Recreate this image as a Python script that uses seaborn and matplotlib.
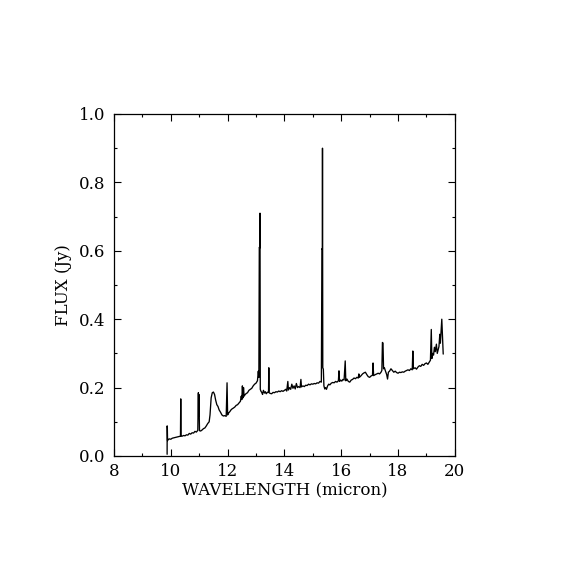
import matplotlib.pyplot as plt
import pandas as pd
import seaborn as sns
from matplotlib.ticker import MultipleLocator


# spectrum (wavelength in micron, flux in Jy)
WAVELENGTH = [
    9.870, 9.872, 9.878, 9.885, 9.90, 9.95, 10.00, 10.05, 10.10, 10.15,
    10.20, 10.25, 10.30, 10.34, 10.35, 10.36, 10.40, 10.45, 10.50, 10.55,
    10.60, 10.65, 10.70, 10.75, 10.80, 10.85, 10.90, 10.95, 10.97, 10.98,
    10.99, 11.01, 11.05, 11.10, 11.15, 11.20, 11.25, 11.30, 11.35, 11.38,
    11.42, 11.46, 11.50, 11.54, 11.58, 11.62, 11.66, 11.70, 11.75, 11.80,
    11.85, 11.90, 11.95, 11.98, 12.00, 12.03, 12.08, 12.12, 12.16, 12.20,
    12.25, 12.30, 12.35, 12.40, 12.45, 12.48, 12.50, 12.52, 12.54, 12.56,
    12.58, 12.62, 12.66, 12.70, 12.75, 12.80, 12.85, 12.90, 12.95, 13.00,
    13.05, 13.08, 13.10, 13.115, 13.13, 13.14, 13.15, 13.17, 13.20, 13.23,
    13.26, 13.30, 13.33, 13.36, 13.40, 13.44, 13.45, 13.46, 13.50, 13.55,
    13.60, 13.65, 13.70, 13.75, 13.80, 13.85, 13.90, 13.95, 14.00, 14.05,
    14.08, 14.12, 14.14, 14.18, 14.22, 14.26, 14.30, 14.34, 14.38, 14.42,
    14.46, 14.50, 14.55, 14.58, 14.60, 14.65, 14.70, 14.75, 14.80, 14.85,
    14.90, 14.95, 15.00, 15.05, 15.10, 15.15, 15.20, 15.25, 15.30, 15.32,
    15.335, 15.34, 15.35, 15.37, 15.39, 15.42, 15.45, 15.48, 15.52, 15.56,
    15.60, 15.65, 15.70, 15.75, 15.80, 15.85, 15.90, 15.92, 15.94, 15.98,
    16.02, 16.06, 16.10, 16.14, 16.16, 16.20, 16.25, 16.30, 16.35, 16.40,
    16.45, 16.50, 16.55, 16.60, 16.62, 16.64, 16.70, 16.75, 16.80, 16.85,
    16.90, 16.95, 17.00, 17.05, 17.10, 17.12, 17.14, 17.20, 17.25, 17.30,
    17.35, 17.40, 17.43, 17.45, 17.47, 17.49, 17.52, 17.55, 17.60, 17.63,
    17.66, 17.70, 17.75, 17.80, 17.85, 17.90, 17.95, 18.00, 18.05, 18.10,
    18.15, 18.20, 18.25, 18.30, 18.35, 18.40, 18.45, 18.50, 18.52, 18.54,
    18.60, 18.65, 18.70, 18.75, 18.80, 18.85, 18.90, 18.95, 19.00, 19.05,
    19.10, 19.14, 19.17, 19.19, 19.22, 19.25, 19.28, 19.31, 19.35, 19.38,
    19.41, 19.44, 19.47, 19.49, 19.52, 19.54, 19.56, 19.59,
]

FLUX = [
    0.005, 0.088, 0.080, 0.045, 0.048, 0.050, 0.049, 0.052, 0.053, 0.054,
    0.055, 0.056, 0.057, 0.058, 0.167, 0.058, 0.058, 0.060, 0.059, 0.062,
    0.061, 0.066, 0.064, 0.068, 0.067, 0.072, 0.070, 0.075, 0.185, 0.115,
    0.180, 0.074, 0.073, 0.076, 0.080, 0.082, 0.088, 0.095, 0.100, 0.120,
    0.170, 0.185, 0.187, 0.180, 0.163, 0.150, 0.145, 0.135, 0.128, 0.120,
    0.117, 0.118, 0.116, 0.214, 0.120, 0.125, 0.130, 0.135, 0.138, 0.140,
    0.143, 0.148, 0.150, 0.155, 0.160, 0.175, 0.165, 0.205, 0.170, 0.200,
    0.175, 0.180, 0.183, 0.185, 0.192, 0.195, 0.198, 0.205, 0.210, 0.213,
    0.220, 0.248, 0.230, 0.610, 0.608, 0.710, 0.195, 0.190, 0.186, 0.180,
    0.192, 0.184, 0.188, 0.182, 0.186, 0.188, 0.258, 0.185, 0.183, 0.182,
    0.186, 0.185, 0.188, 0.187, 0.190, 0.188, 0.191, 0.189, 0.192, 0.195,
    0.190, 0.218, 0.193, 0.200, 0.195, 0.210, 0.198, 0.205, 0.196, 0.212,
    0.200, 0.203, 0.200, 0.224, 0.202, 0.205, 0.203, 0.207, 0.206, 0.210,
    0.208, 0.211, 0.210, 0.212, 0.211, 0.214, 0.213, 0.218, 0.216, 0.606,
    0.604, 0.900, 0.258, 0.254, 0.205, 0.196, 0.200, 0.195, 0.205, 0.210,
    0.208, 0.213, 0.215, 0.214, 0.218, 0.216, 0.220, 0.249, 0.218, 0.222,
    0.219, 0.224, 0.222, 0.278, 0.220, 0.225, 0.218, 0.216, 0.222, 0.224,
    0.228, 0.226, 0.230, 0.228, 0.240, 0.230, 0.235, 0.240, 0.243, 0.245,
    0.238, 0.232, 0.230, 0.234, 0.236, 0.272, 0.235, 0.238, 0.240, 0.242,
    0.240, 0.245, 0.250, 0.332, 0.330, 0.255, 0.258, 0.250, 0.238, 0.225,
    0.245, 0.248, 0.255, 0.250, 0.245, 0.248, 0.244, 0.242, 0.245, 0.244,
    0.246, 0.245, 0.248, 0.250, 0.252, 0.250, 0.255, 0.252, 0.307, 0.255,
    0.258, 0.254, 0.260, 0.264, 0.262, 0.268, 0.265, 0.270, 0.272, 0.268,
    0.275, 0.280, 0.370, 0.285, 0.300, 0.295, 0.318, 0.305, 0.327, 0.300,
    0.310, 0.320, 0.356, 0.330, 0.372, 0.400, 0.360, 0.298,
]

X_TICKS = [8, 10, 12, 14, 16, 18, 20]
Y_TICKS = [0.0, 0.2, 0.4, 0.6, 0.8, 1.0]


def set_chart_theme():
    sns.set_theme(style="ticks")
    plt.rcParams["font.family"] = ["DejaVu Serif"]
    plt.rcParams["text.color"] = "black"
    plt.rcParams["axes.labelcolor"] = "black"
    plt.rcParams["axes.edgecolor"] = "black"
    plt.rcParams["axes.linewidth"] = 0.9
    plt.rcParams["xtick.direction"] = "in"
    plt.rcParams["ytick.direction"] = "in"
    plt.rcParams["xtick.top"] = True
    plt.rcParams["ytick.right"] = True
    plt.rcParams["xtick.color"] = "black"
    plt.rcParams["ytick.color"] = "black"
    plt.rcParams["xtick.labelcolor"] = "black"
    plt.rcParams["ytick.labelcolor"] = "black"


def main():
    set_chart_theme()
    spectrum = pd.DataFrame({"wavelength": WAVELENGTH, "flux": FLUX})

    figure = plt.figure(figsize=(5.7, 5.7), dpi=100)
    axis = figure.add_axes([0.2, 0.2, 0.598, 0.6])
    sns.lineplot(
        data=spectrum,
        x="wavelength",
        y="flux",
        sort=False,
        estimator=None,
        color="black",
        linewidth=0.95,
        ax=axis,
    )

    axis.set_xlim(8, 20)
    axis.set_ylim(0, 1.0)
    axis.set_xticks(X_TICKS)
    axis.set_yticks(Y_TICKS)
    axis.set_xticklabels([str(t) for t in X_TICKS])
    axis.set_yticklabels([f"{t:.1f}" for t in Y_TICKS])
    axis.xaxis.set_minor_locator(MultipleLocator(1))
    axis.yaxis.set_minor_locator(MultipleLocator(0.1))
    axis.tick_params(which="major", length=5, width=0.8, labelsize=12, pad=5)
    axis.tick_params(which="minor", length=2.5, width=0.8)
    axis.tick_params(axis="y", pad=6)

    axis.set_xlabel("WAVELENGTH (micron)", fontsize=12, labelpad=2)
    axis.set_ylabel("FLUX (Jy)", fontsize=12, labelpad=5)

    figure.savefig("out.png", dpi=100, facecolor="white")
    plt.close(figure)


if __name__ == "__main__":
    main()
